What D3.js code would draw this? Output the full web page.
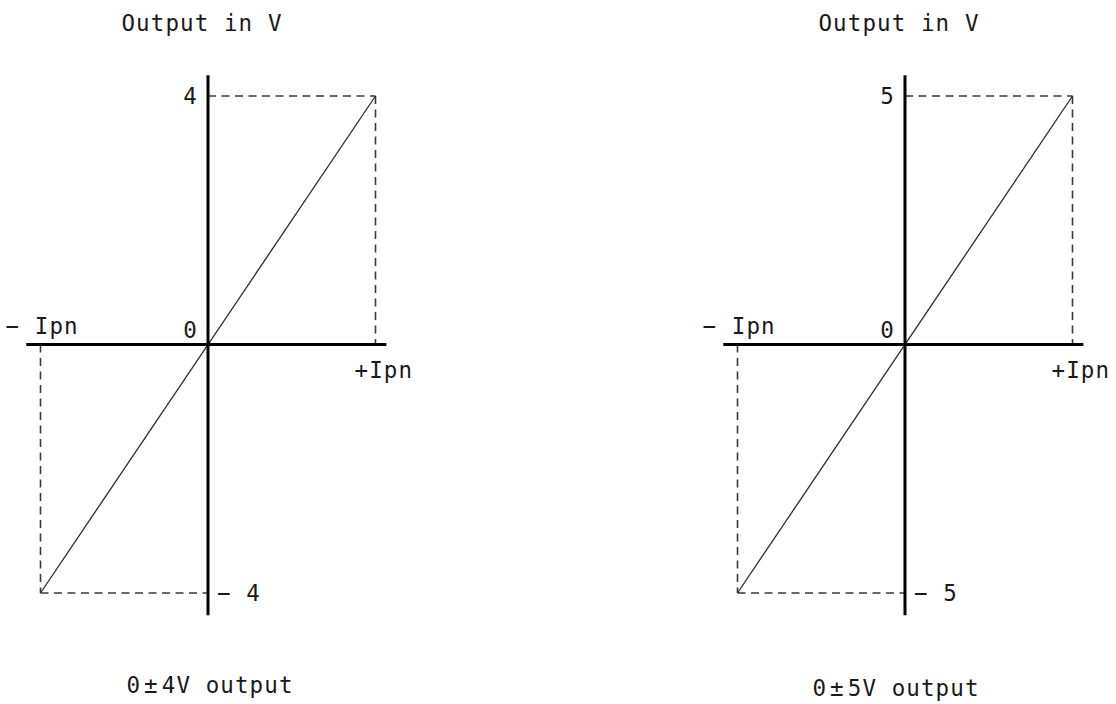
<!DOCTYPE html>
<html>
<head>
<meta charset="utf-8">
<script src="https://cdn.jsdelivr.net/npm/d3@7"></script>
<style>
  html, body { margin: 0; padding: 0; background: #fff; }
  svg text { font-family: "DejaVu Sans Mono", monospace; fill: #1a1a1a; }
</style>
</head>
<body>
<svg id="chart" width="1116" height="704"></svg>
<script>
// ---- data ----
const panelNames   = ["0±4V output", "0±5V output"];
const fullScaleV   = [4, 5];
const yTitles      = ["Output in V", "Output in V"];
const xTickLabels  = ["− Ipn", "+Ipn"];
const currentRange = [-1, 1];       // -Ipn .. +Ipn (normalised)
const zeroLabel    = "0";

// ---- layout ----
const panelCenters = [208, 905];
const halfW = 167.5;          // px from centre to ±Ipn
const yZero = 344.5, halfH = 248.5;
const axisExtX = [-1.085, 1.065];   // horizontal axis extent in Ipn units
const axisExtY = [-1.09, 1.083];    // vertical axis extent in full-scale units

const svg = d3.select("#chart");

panelNames.forEach((name, i) => {
  const V = fullScaleV[i];
  const cx = panelCenters[i];
  const x = d3.scaleLinear().domain(currentRange).range([cx - halfW, cx + halfW]);
  const y = d3.scaleLinear().domain([-V, V]).range([yZero + halfH, yZero - halfH]);
  const g = svg.append("g");

  // dashed guide lines
  const dash = g.append("g").attr("stroke", "#3a3a3a").attr("stroke-width", 1.6)
    .attr("stroke-dasharray", "8,5.5").attr("fill", "none");
  dash.append("line").attr("x1", x(0)).attr("x2", x(1)).attr("y1", y(V)).attr("y2", y(V));
  dash.append("line").attr("x1", x(1)).attr("x2", x(1)).attr("y1", y(V)).attr("y2", y(0));
  dash.append("line").attr("x1", x(-1)).attr("x2", x(-1)).attr("y1", y(0)).attr("y2", y(-V));
  dash.append("line").attr("x1", x(-1)).attr("x2", x(0)).attr("y1", y(-V)).attr("y2", y(-V));

  // transfer line
  const line = d3.line().x(d => x(d[0])).y(d => y(d[1]));
  g.append("path")
    .datum(currentRange.map(c => [c, c * V]))
    .attr("d", line)
    .attr("fill", "none").attr("stroke", "#2a2a2a").attr("stroke-width", 1.3);

  // axes
  g.append("line")
    .attr("x1", x(axisExtX[0])).attr("x2", x(axisExtX[1]))
    .attr("y1", y(0)).attr("y2", y(0))
    .attr("stroke", "#000").attr("stroke-width", 3);
  g.append("line")
    .attr("x1", x(0)).attr("x2", x(0))
    .attr("y1", y(axisExtY[0] * V)).attr("y2", y(axisExtY[1] * V))
    .attr("stroke", "#000").attr("stroke-width", 3);

  const fs = 22.5, ls = 1.1;
  const txt = (t, px, py, anchor) => g.append("text")
    .attr("x", px).attr("y", py)
    .attr("text-anchor", anchor || "start")
    .attr("font-size", fs).attr("letter-spacing", ls)
    .attr("xml:space", "preserve")
    .text(t);

  // y title
  txt(yTitles[i], x(0) - 6, 31, "middle");
  // tick labels
  txt(String(V), x(0) - 10, y(V) + 8, "end");
  txt("− " + V, x(0) + 9, y(-V) + 8, "start");
  txt(zeroLabel, x(0) - 10, y(0) - 7, "end");
  txt(xTickLabels[0], x(-1) - 35, y(0) - 11, "start");
  txt(xTickLabels[1], x(1) - 21, y(0) + 33, "start");

  // panel caption with wide ± sign
  const parts = name.split("±");
  const cap = g.append("text")
    .attr("x", x(0) + (i === 0 ? 2 : -9)).attr("y", 693 + (i === 0 ? 0 : 3))
    .attr("text-anchor", "middle")
    .attr("font-size", fs).attr("letter-spacing", ls)
    .attr("xml:space", "preserve");
  cap.append("tspan").text(parts[0]);
  cap.append("tspan").attr("dx", 3).text("±");
  cap.append("tspan").attr("dx", 3).text(parts[1]);
});
</script>
</body>
</html>
